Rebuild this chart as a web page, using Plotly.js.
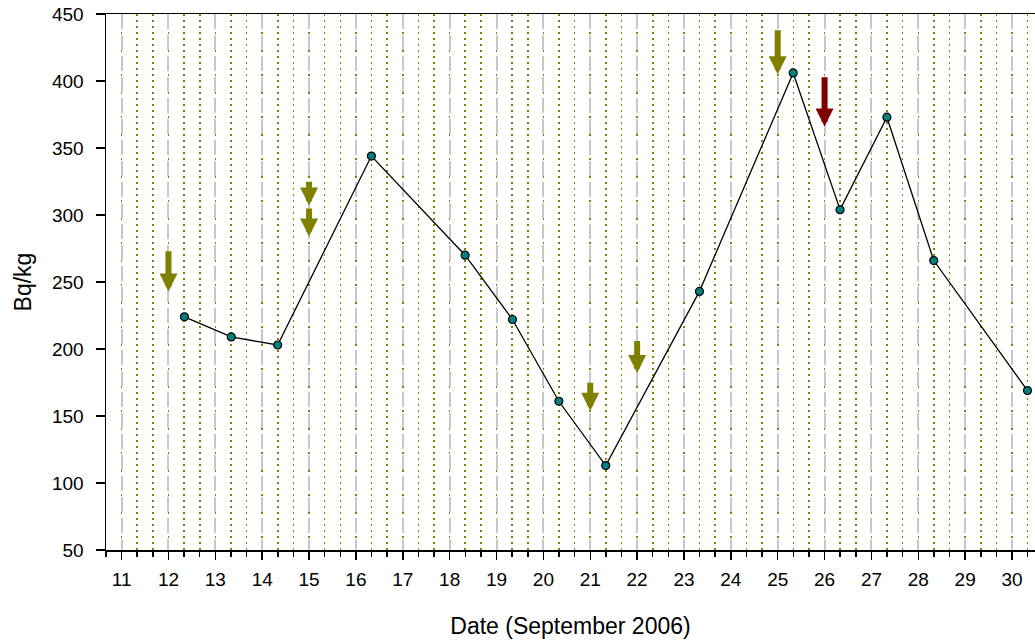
<!DOCTYPE html>
<html>
<head>
<meta charset="utf-8">
<script src="https://cdn.plot.ly/plotly-3.0.1.min.js"></script>
<style>html,body{margin:0;padding:0;background:#fff;}#chart{width:1035px;height:643px;}</style>
</head>
<body>
<div id="chart"></div>
<script>
// Measurement dates (day of September 2006, fractional) and activity values (Bq/kg)
const sampleDays = [12.34, 13.34, 14.33, 16.33, 18.33, 19.34, 20.33, 21.33, 23.33, 25.33, 26.33, 27.33, 28.33, 30.33];
const activity   = [224, 209, 203, 344, 270, 222, 161, 113, 243, 406, 304, 373, 266, 169];

// Event arrows: day, top of arrow (start) and tip (end) in Bq/kg, colour
const arrowDays   = [12, 15, 15, 21, 22, 25, 26];
const arrowTop    = [274, 326, 306, 176, 207, 439, 404];
const arrowTip    = [243, 307, 284, 154, 182, 405, 366];
const arrowColors = ['#808000', '#808000', '#808000', '#808000', '#808000', '#808000', '#800000'];

const xTickVals = [];
for (let d = 11; d <= 30; d++) xTickVals.push(d);

const trace = {
  x: sampleDays,
  y: activity,
  type: 'scatter',
  mode: 'lines+markers',
  line: {color: '#000000', width: 1.3},
  marker: {color: '#008080', size: 8, line: {color: '#000000', width: 1.2}},
  hoverinfo: 'x+y'
};

const annotations = arrowDays.map((d, i) => ({
  x: d, y: arrowTip[i], ax: d, ay: arrowTop[i],
  xref: 'x', yref: 'y', axref: 'x', ayref: 'y',
  text: '', showarrow: true, arrowhead: 2, arrowsize: 0.6,
  arrowwidth: 6, arrowcolor: arrowColors[i], standoff: 0, startstandoff: 0
}));

const layout = {
  width: 1035, height: 643,
  margin: {l: 106, r: 0, t: 14, b: 93},
  paper_bgcolor: '#ffffff', plot_bgcolor: '#ffffff',
  showlegend: false,
  font: {family: '"Liberation Sans", Arial, sans-serif', color: '#000000', size: 19},
  xaxis: {
    range: [10.667, 30.49],
    tickmode: 'array', tickvals: xTickVals, ticktext: xTickVals.map(String),
    ticks: 'outside', ticklen: 8, tickwidth: 1.5, tickcolor: '#000',
    showline: true, linecolor: '#000', linewidth: 1.5, mirror: true,
    showgrid: true, gridcolor: '#c8c8c8', gridwidth: 2, griddash: '15px,6px',
    zeroline: false,
    tickfont: {family: '"Liberation Sans", Arial, sans-serif', size: 19, color: '#000'},
    ticklabelstandoff: 4,
    minor: {tick0: 11, dtick: 1/3, showgrid: true, gridcolor: '#808000', gridwidth: 1.6,
            griddash: '2px,4px', ticks: 'outside', ticklen: 5, tickwidth: 1.5, tickcolor: '#000'},
    title: {text: 'Date (September 2006)', font: {size: 23}, standoff: 28}
  },
  yaxis: {
    range: [50, 450], tick0: 50, dtick: 50,
    ticks: 'outside', ticklen: 9, tickwidth: 1.5, tickcolor: '#000',
    showline: true, linecolor: '#000', linewidth: 1.5,
    showgrid: false, zeroline: false,
    tickfont: {family: '"Liberation Sans", Arial, sans-serif', size: 19, color: '#000'},
    ticklabelstandoff: 8,
    title: {text: 'Bq/kg', font: {size: 23}, standoff: 14}
  },
  annotations: annotations
};

Plotly.newPlot('chart', [trace], layout, {displayModeBar: false, staticPlot: true});
</script>
</body>
</html>
